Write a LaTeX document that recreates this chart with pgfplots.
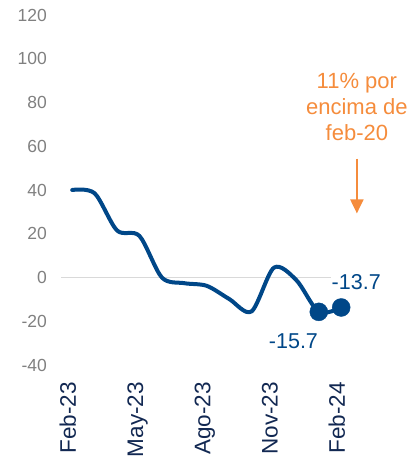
\documentclass[border=0pt]{standalone}
\usepackage{fontspec}
\setmainfont{Liberation Sans}
\usepackage{pgfplots}
\pgfplotsset{compat=1.18}
\usetikzlibrary{arrows.meta}
\definecolor{navy}{RGB}{0,71,136}
\definecolor{darknavy}{RGB}{18,40,82}
\definecolor{ticgray}{RGB}{128,128,128}
\definecolor{zerogray}{RGB}{217,217,217}
\definecolor{orng}{RGB}{245,140,60}
\begin{document}
\begin{tikzpicture}[x=1pt,y=1pt]
\useasboundingbox (0,-457) rectangle (412,0);
\begin{axis}[
  at={(61pt,-365pt)}, anchor=south west,
  scale only axis, width=291.4pt, height=350pt,
  xmin=-0.5, xmax=12.5, ymin=-40, ymax=120,
  clip=false,
  axis line style={draw=none},
  major tick style={draw=none},
  ytick={-40,-20,0,20,40,60,80,100,120},
  yticklabels={-40,-20,0,20,40,60,80,100,120},
  xtick={0,3,6,9,12},
  xticklabels={Feb-23,May-23,Ago-23,Nov-23,Feb-24},
  yticklabel style={font=\fontsize{17.5}{20}\selectfont, text=ticgray, inner sep=0pt, anchor=east},
  yticklabel shift=14pt,
  xticklabel style={font=\fontsize{22.5}{25}\selectfont, text=darknavy, inner sep=0pt, rotate=90, anchor=east, text height=0.72em, text depth=0pt},
  xticklabel shift=17pt,
]
\addplot[zerogray, line width=1.8pt, forget plot] coordinates {(-0.5,0) (12.5,0)};
\addplot[navy, line width=4pt, smooth, line join=round, line cap=round] coordinates {
(0,40) (1,38.5) (2,21.5) (3,19) (4,0) (5,-2.6) (6,-3.8) (7,-9.8) (8,-15.5) (9,4.5) (10,-1.2) (11,-15.7) (12,-13.7)};
\addplot[navy, only marks, mark=*, mark size=9pt] coordinates {(11,-15.7) (12,-13.7)};
\node[navy, font=\fontsize{21.5}{24}\selectfont, anchor=base, inner sep=0pt] at (axis cs:9.87,-32.5) {-15.7};
\node[navy, font=\fontsize{21.5}{24}\selectfont, anchor=base, inner sep=1pt, fill=white] at (axis cs:12.67,-5.5) {-13.7};
\node[orng, font=\fontsize{22}{26}\selectfont, align=center, anchor=north, inner sep=0pt] at (axis cs:12.7,93.3) {11\% por\\encima de\\feb-20};
\draw[orng, line width=2pt, -{Triangle[width=13pt,length=14pt]}] (axis cs:12.7,54.4) -- (axis cs:12.7,29.3);
\end{axis}
\end{tikzpicture}
\end{document}
